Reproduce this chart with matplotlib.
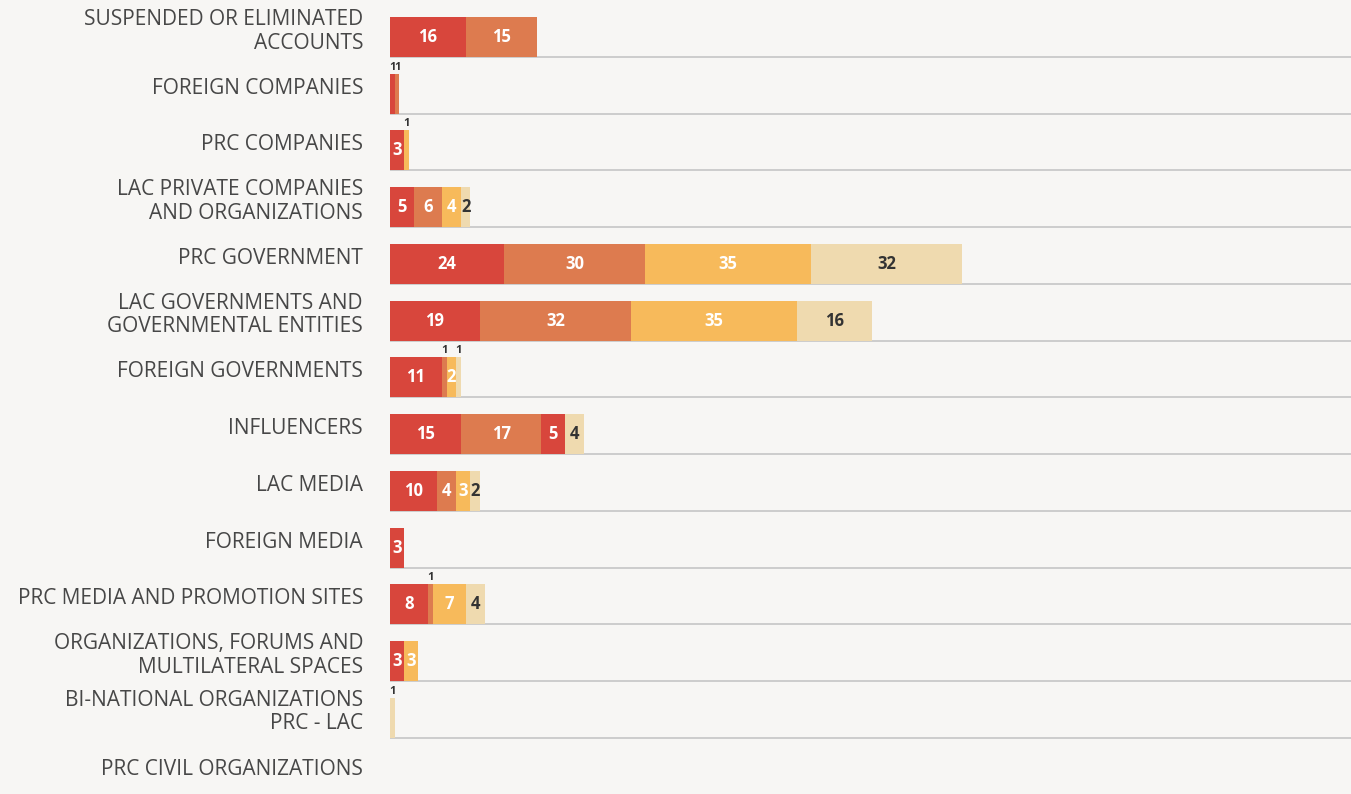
import matplotlib.pyplot as plt
import matplotlib.transforms as mtransforms

categories = [
    "SUSPENDED OR ELIMINATED\nACCOUNTS",
    "FOREIGN COMPANIES",
    "PRC COMPANIES",
    "LAC PRIVATE COMPANIES\nAND ORGANIZATIONS",
    "PRC GOVERNMENT",
    "LAC GOVERNMENTS AND\nGOVERNMENTAL ENTITIES",
    "FOREIGN GOVERNMENTS",
    "INFLUENCERS",
    "LAC MEDIA",
    "FOREIGN MEDIA",
    "PRC MEDIA AND PROMOTION SITES",
    "ORGANIZATIONS, FORUMS AND\nMULTILATERAL SPACES",
    "BI-NATIONAL ORGANIZATIONS\nPRC - LAC",
    "PRC CIVIL ORGANIZATIONS",
]

# four stacked groups, left to right
group1 = [16, 1, 3, 5, 24, 19, 11, 15, 10, 3, 8, 3, 0, 0]
group2 = [15, 1, 0, 6, 30, 32, 1, 17, 4, 0, 1, 0, 0, 0]
group3 = [0, 0, 1, 4, 35, 35, 2, 5, 3, 0, 7, 3, 0, 0]
group4 = [0, 0, 0, 2, 32, 16, 1, 4, 2, 0, 4, 0, 1, 0]

RED = "#d8463c"
colors = [RED, "#dd7b4f", "#f7ba5b", "#efdaaf"]
text_colors = ["white", "white", "white", "#333333"]
BG = "#f7f6f4"

plt.rcParams["font.family"] = ["Open Sans", "DejaVu Sans"]

fig = plt.figure(figsize=(13.51, 7.94), dpi=100, facecolor=BG)
ax = fig.add_axes([390 / 1351, 0, 1 - 390 / 1351, 1])
ax.set_facecolor(BG)
ax.set_xlim(0, 961 / 4.73)
ax.set_ylim(13.34, -0.652)
ax.axis("off")

bar_h = 40 / 56.75
groups = [group1, group2, group3, group4]

for i, cat in enumerate(categories):
    # rule under each bar
    ax.axhline(i + bar_h / 2, color="#c9c9c9", lw=1.3, zorder=1)
    left = 0
    for j, vals in enumerate(groups):
        v = vals[i]
        if v == 0:
            continue
        c = RED if (cat == "INFLUENCERS" and j == 2) else colors[j]
        ax.barh(i, v, left=left, height=bar_h, color=c, zorder=2)
        cx = left + v / 2
        if v > 1:
            ax.text(cx, i, str(v), ha="center", va="center", fontsize=12,
                    fontweight="bold", color=text_colors[j], zorder=3)
        else:
            # too thin for the number, put it on top
            ax.text(cx, i - bar_h / 2 - 0.02, str(v), ha="center", va="bottom",
                    fontsize=8, fontweight="bold", color="#333333", zorder=3)
        left += v

trans = mtransforms.blended_transform_factory(fig.transFigure, ax.transData)
for i, cat in enumerate(categories):
    fig.text(363 / 1351, i - 0.10, cat, transform=trans, ha="right", va="center",
             multialignment="right", fontsize=15, fontweight="normal",
             color="#474747", linespacing=1.15)

fig.savefig("out.png", dpi=100, facecolor=BG)
